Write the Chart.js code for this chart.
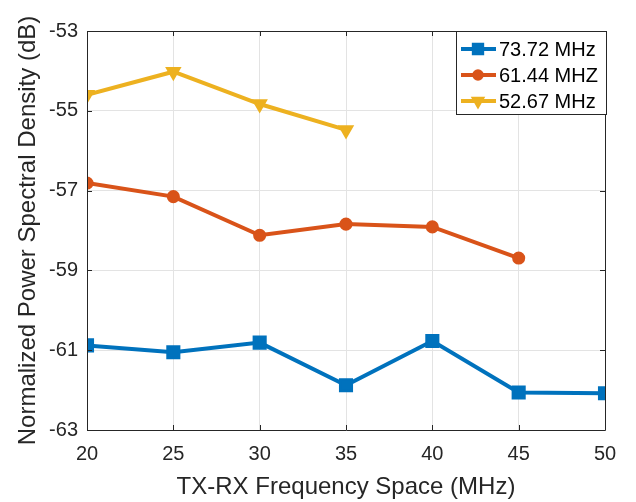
<!DOCTYPE html>
<html>
<head>
<meta charset="utf-8">
<script src="https://cdn.jsdelivr.net/npm/chart.js@4.4.0/dist/chart.umd.min.js"></script>
<style>
html, body { margin: 0; padding: 0; background: #fff; }
#wrap { width: 636px; height: 502px; }
</style>
</head>
<body>
<div id="wrap"><canvas id="myChart" width="636" height="502"></canvas></div>
<script>
// TX-RX spacing (MHz) and measured PSD (dB) per sampling rate
const spacing = [20, 25, 30, 35, 40, 45, 50];
const psd7372 = [-60.88, -61.05, -60.81, -61.88, -60.77, -62.06, -62.08];
const psd6144 = [-56.81, -57.15, -58.12, -57.84, -57.91, -58.69];
const psd5267 = [-54.60, -54.02, -54.83, -55.48];
const seriesNames = ["73.72 MHz", "61.44 MHZ", "52.67 MHz"];
const xTicks = [20, 25, 30, 35, 40, 45, 50];
const yTicks = [-63, -61, -59, -57, -55, -53];

const FONT = "'Liberation Sans', Arial, Helvetica, sans-serif";

function toPoints(vals) {
    return vals.map((v, i) => ({ x: spacing[i], y: v }));
}

const styles = [
    { color: "#0072BD", pointStyle: "rect", radius: 8.2, borderWidth: 2.5, rotation: 0 },
    { color: "#D95319", pointStyle: "circle", radius: 5.3, borderWidth: 2.5, rotation: 0 },
    { color: "#EDB120", pointStyle: "triangle", radius: 7.5, borderWidth: 2, rotation: 180 },
];

const datasets = [psd7372, psd6144, psd5267].map((vals, i) => ({
    label: seriesNames[i],
    data: toPoints(vals),
    borderColor: styles[i].color,
    backgroundColor: styles[i].color,
    borderWidth: 4,
    pointStyle: styles[i].pointStyle,
    pointRadius: styles[i].radius,
    pointRotation: styles[i].rotation,
    pointBorderWidth: styles[i].borderWidth,
    pointBackgroundColor: styles[i].color,
    pointBorderColor: styles[i].color,
    tension: 0,
    fill: false,
}));

// box on + inward ticks, matlab style
const boxPlugin = {
    id: "boxPlugin",
    afterDatasetsDraw(chart) {
        const { ctx, chartArea: a, scales } = chart;
        ctx.save();
        ctx.strokeStyle = "#262626";
        ctx.lineWidth = 1;
        ctx.beginPath();
        ctx.rect(a.left + 0.5, a.top + 0.5, a.right - a.left, a.bottom - a.top);
        ctx.stroke();
        const len = 5;
        ctx.beginPath();
        xTicks.forEach((t) => {
            const px = Math.round(scales.x.getPixelForValue(t)) + 0.5;
            ctx.moveTo(px, a.bottom); ctx.lineTo(px, a.bottom - len);
            ctx.moveTo(px, a.top); ctx.lineTo(px, a.top + len);
        });
        yTicks.forEach((t) => {
            const py = Math.round(scales.y.getPixelForValue(t)) + 0.5;
            ctx.moveTo(a.left, py); ctx.lineTo(a.left + len, py);
            ctx.moveTo(a.right, py); ctx.lineTo(a.right - len, py);
        });
        ctx.stroke();
        ctx.restore();
    },
};

// legend in the north-east corner
const legendPlugin = {
    id: "legendBox",
    afterDraw(chart) {
        const { ctx, chartArea: a } = chart;
        const w = 150, h = 83;
        const left = a.right - w + 1, top = a.top;
        ctx.save();
        ctx.fillStyle = "#ffffff";
        ctx.fillRect(left, top, w, h);
        ctx.strokeStyle = "#262626";
        ctx.lineWidth = 1;
        ctx.strokeRect(left + 0.5, top + 0.5, w, h);
        chart.data.datasets.forEach((ds, i) => {
            const y = top + 18 + i * 26;
            ctx.strokeStyle = ds.borderColor;
            ctx.lineWidth = 4;
            ctx.beginPath();
            ctx.moveTo(left + 5, y);
            ctx.lineTo(left + 40, y);
            ctx.stroke();
            ctx.fillStyle = ds.borderColor;
            ctx.lineWidth = ds.pointBorderWidth;
            Chart.helpers.drawPoint(ctx, {
                pointStyle: ds.pointStyle,
                radius: ds.pointRadius * 0.85,
                rotation: ds.pointRotation,
                borderWidth: ds.pointBorderWidth,
            }, left + 22, y);
            ctx.fillStyle = "#000000";
            ctx.font = "20px " + FONT;
            ctx.textBaseline = "middle";
            ctx.textAlign = "left";
            ctx.fillText(ds.label, left + 43, y + 1);
        });
        ctx.restore();
    },
};

const ctx = document.getElementById("myChart").getContext("2d");
const myChart = new Chart(ctx, {
    type: "line",
    data: { datasets: datasets },
    options: {
        responsive: false,
        animation: false,
        layout: { padding: { left: 0, top: 31, right: 31, bottom: 0 } },
        plugins: {
            legend: { display: false },
            tooltip: { enabled: false },
        },
        scales: {
            x: {
                type: "linear",
                min: 20,
                max: 50,
                afterBuildTicks: (scale) => { scale.ticks = xTicks.map((v) => ({ value: v })); },
                afterFit: (scale) => { scale.height = 72; },
                grid: { color: "#e3e3e3", lineWidth: 1, drawTicks: false },
                border: { display: false },
                ticks: { color: "#262626", font: { family: FONT, size: 20 }, padding: 12, maxRotation: 0 },
                title: {
                    display: true,
                    text: "TX-RX Frequency Space (MHz)",
                    color: "#262626",
                    font: { family: FONT, size: 24, lineHeight: 1 },
                    padding: 3,
                },
            },
            y: {
                min: -63,
                max: -53,
                afterBuildTicks: (scale) => { scale.ticks = yTicks.map((v) => ({ value: v })); },
                afterFit: (scale) => { scale.width = 87; },
                grid: { color: "#e3e3e3", lineWidth: 1, drawTicks: false },
                border: { display: false },
                ticks: { color: "#262626", font: { family: FONT, size: 20 }, padding: 9 },
                title: {
                    display: true,
                    text: "Normalized Power Spectral Density (dB)",
                    color: "#262626",
                    font: { family: FONT, size: 24, lineHeight: 1 },
                    padding: 16,
                },
            },
        },
    },
    plugins: [boxPlugin, legendPlugin],
});
</script>
</body>
</html>
